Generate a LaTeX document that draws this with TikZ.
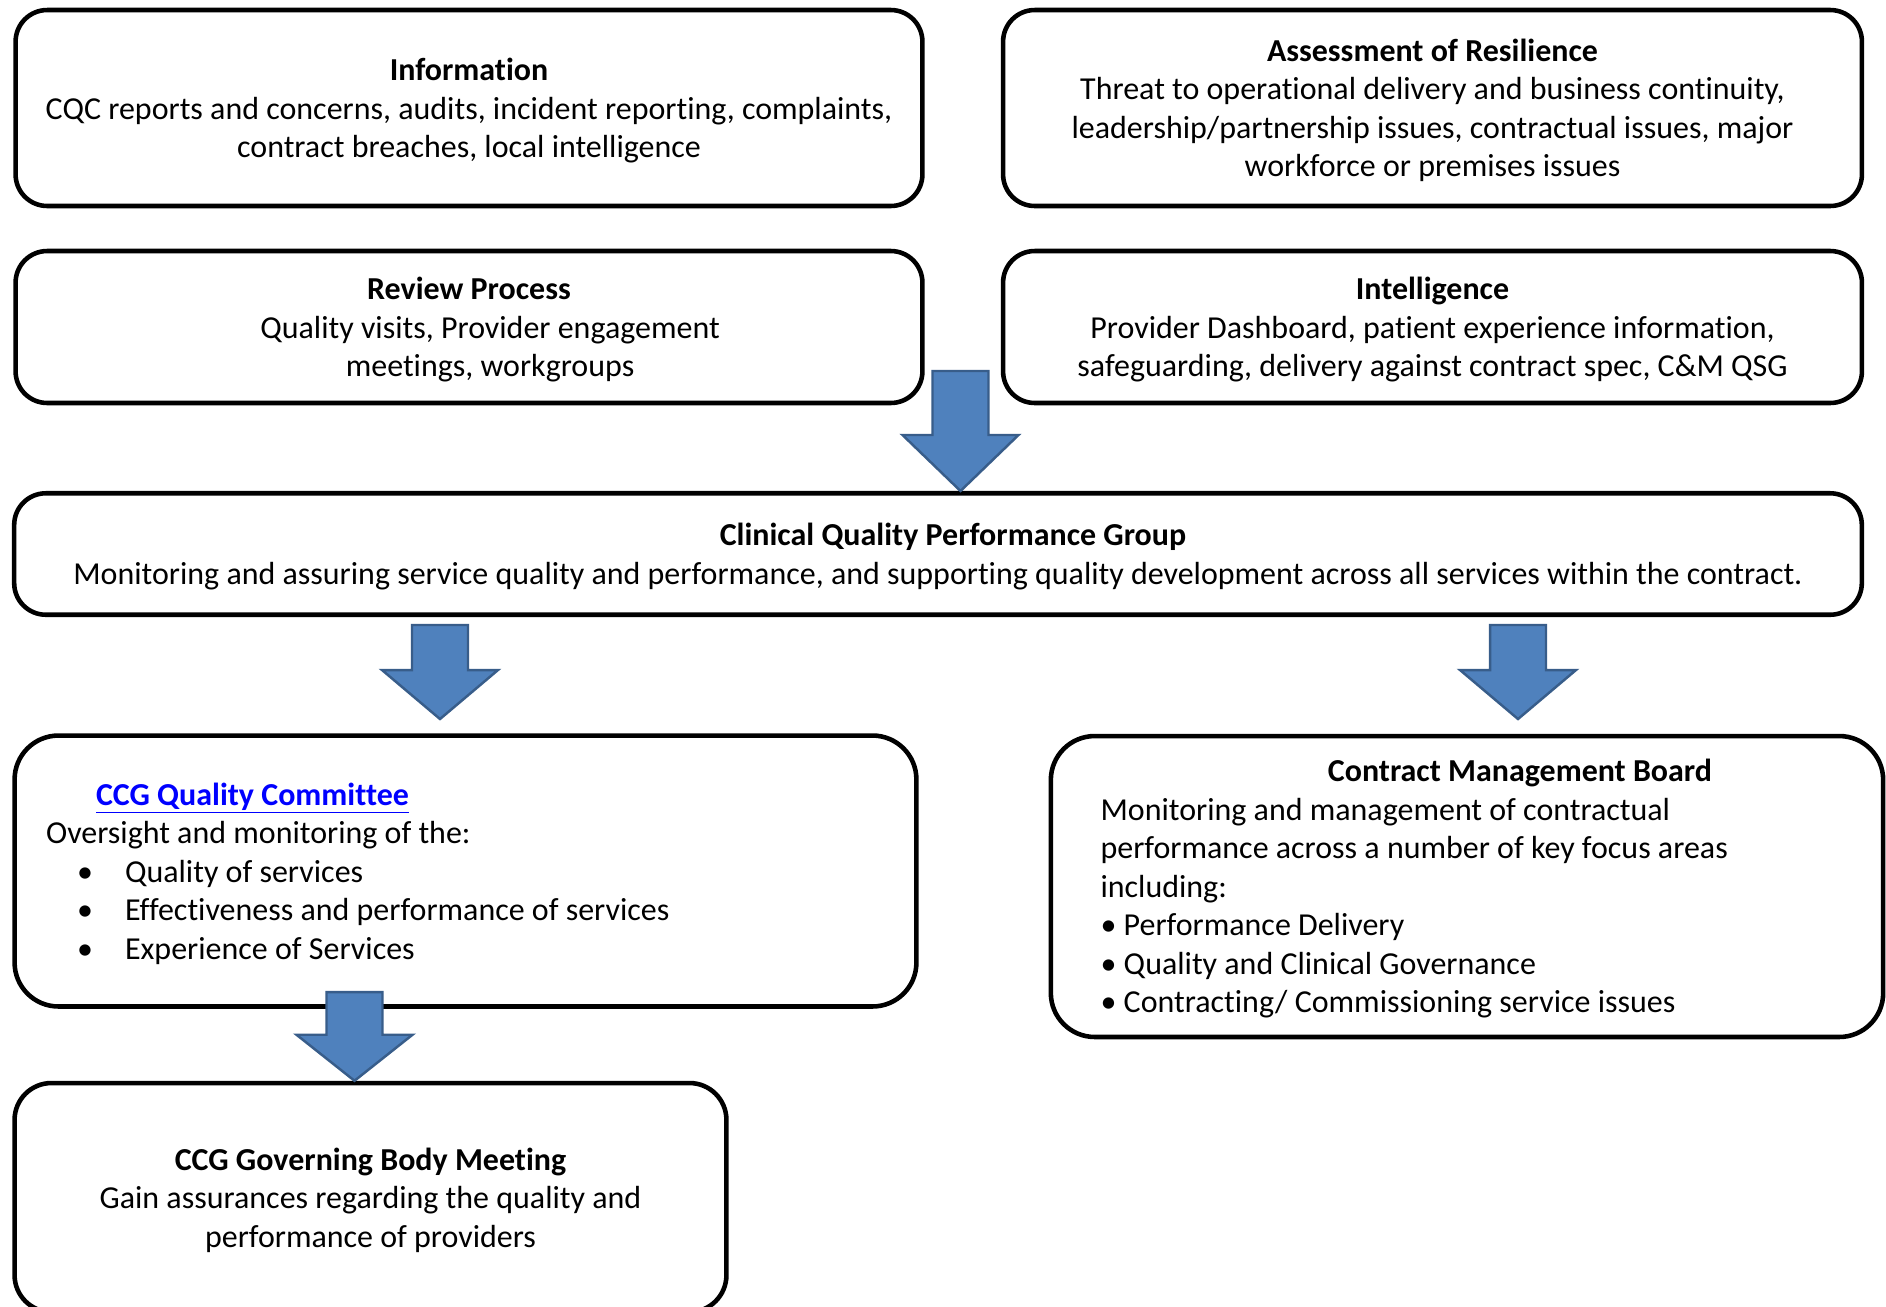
\documentclass[tikz,border=0pt]{standalone}
\usepackage{fontspec}
\setmainfont{Carlito}[Ligatures=NoCommon]
\usetikzlibrary{calc}
\definecolor{arrowfill}{HTML}{4F81BD}
\definecolor{arrowline}{HTML}{385D8A}
\definecolor{linkblue}{HTML}{0000FF}
\tikzset{
  panel/.style={draw=black, line width=2.6pt, rounded corners=18pt, fill=white,
                align=center, inner sep=0pt, text depth=0pt},
  listpanel/.style={panel, rounded corners=25pt, align=flush left, text depth=,
                execute at begin node={\rule{0pt}{15.5pt}}},
  blockarrow/.style={fill=arrowfill, draw=arrowline, line width=1.4pt, line join=miter},
}
% #1 top of shaft, #2 tip, #3 head length
\newcommand{\downblock}[3]{%
  \filldraw[blockarrow] let \p1=(#1), \p2=(#2) in
    (\x1-0.56cm,\y1) -- (\x1+0.56cm,\y1) -- (\x1+0.56cm,\y2+#3)
    -- (\x1+1.16cm,\y2+#3) -- (\x1,\y2) -- (\x1-1.16cm,\y2+#3)
    -- (\x1-0.56cm,\y2+#3) -- cycle;}

\begin{document}
\begin{tikzpicture}[x=0.02cm, y=-0.02cm, font=\fontsize{18.2pt}{21.9pt}\selectfont]
  \fill[white] (0,0) rectangle (1886,1306);
  \useasboundingbox (0,0) rectangle (1886,1306);

  \node[panel, minimum width=18.14cm, minimum height=3.92cm] (info) at (469,108)
    {\textbf{Information}\\
     CQC reports and concerns, audits, incident reporting, complaints,\\
     contract breaches, local intelligence};
  \node[panel, minimum width=17.18cm, minimum height=3.92cm] (resil) at (1432.5,108)
    {\textbf{Assessment of Resilience}\\
     Threat to operational delivery and business continuity,\\
     leadership/partnership issues, contractual issues, major\\
     workforce or premises issues};
  \node[panel, minimum width=18.14cm, minimum height=3.04cm] (review) at (469,327)
    {\textbf{Review Process}\\
     \hspace*{0.84cm}Quality visits, Provider engagement\\
     \hspace*{0.84cm}meetings, workgroups};
  \node[panel, minimum width=17.18cm, minimum height=3.04cm] (intel) at (1432.5,327)
    {\textbf{Intelligence}\\
     Provider Dashboard, patient experience information,\\
     safeguarding, delivery against contract spec, C\&M QSG};
  \node[panel, minimum width=36.96cm, minimum height=2.43cm] (cqpg) at (938,554)
    {\hspace*{0.6cm}\textbf{Clinical Quality Performance Group}\\
     Monitoring and assuring service quality and performance, and supporting quality development across all services within the contract.};
  \node[listpanel, minimum width=18.04cm, minimum height=5.42cm,
        text width=16.78cm] (qc) at (465.5,871)
    {\hspace*{1.0cm}\textcolor{linkblue}{\textbf{\underline{CCG Quality Committee}}}\\
     Oversight and monitoring of the:\\
     \hspace*{0.62cm}\makebox[0.96cm][l]{\textbullet}Quality of services\\
     \hspace*{0.62cm}\makebox[0.96cm][l]{\textbullet}Effectiveness and performance of services\\
     \hspace*{0.62cm}\makebox[0.96cm][l]{\textbullet}Experience of Services};
  \node[listpanel, minimum width=16.65cm, minimum height=6.02cm,
        text width=14.66cm] (cmb) at (1467,886.5)
    {\makebox[14.66cm]{\hspace*{2.12cm}\textbf{Contract Management Board}}\\
     Monitoring and management of contractual\\
     performance across a number of key focus areas\\
     including:\\
     \textbullet\ Performance Delivery\\
     \textbullet\ Quality and Clinical Governance\\
     \textbullet\ Contracting/ Commissioning service issues};
  \node[panel, rounded corners=21pt, minimum width=14.24cm, minimum height=4.58cm] (gov) at (370.5,1197.5)
    {\textbf{CCG Governing Body Meeting}\\
     Gain assurances regarding the quality and\\
     performance of providers};

  \coordinate (a1) at (960.5,371);
  \coordinate (a2) at (440,625);
  \coordinate (a2tip) at (440,719);
  \coordinate (a3) at (1518,625);
  \coordinate (a3tip) at (1518,719);
  \coordinate (a4) at (354.5,992);
  \downblock{a1}{a1 |- cqpg.north}{1.12cm}
  \downblock{a2}{a2tip}{0.98cm}
  \downblock{a3}{a3tip}{0.98cm}
  \downblock{a4}{a4 |- gov.north}{0.92cm}
\end{tikzpicture}
\end{document}
